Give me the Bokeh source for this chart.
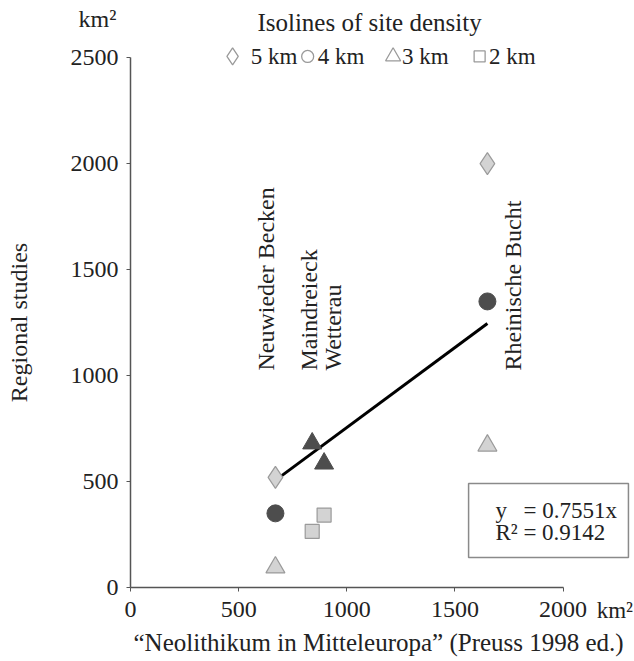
import math
from bokeh.plotting import figure
from bokeh.models import Range1d, FixedTicker
from bokeh.core.properties import value
from bokeh.embed import file_html
from bokeh.resources import INLINE

# ---- data ----
sites = ["Neuwieder Becken", "Maindreieck", "Wetterau", "Rheinische Bucht"]
site_x = [670, 840, 895, 1650]

# isolines of site density (regional studies, km²)
d5_x = [670, 1650]
d5_y = [520, 2000]
d4_x = [670, 1650]
d4_y = [350, 1350]
d3_light_x = [670, 1650]
d3_light_y = [95, 670]
d3_dark_x = [840, 895]
d3_dark_y = [680, 585]
d2_x = [840, 895]
d2_y = [265, 342]

slope = 0.7551
r2 = 0.9142
fit_x = [690, 1650]
fit_y = [slope * v for v in fit_x]

x_ticks = [0, 500, 1000, 1500, 2000]
y_ticks = [0, 500, 1000, 1500, 2000, 2500]

legend_labels = ["5 km", "4 km", "3 km", "2 km"]
x_title = "\u201cNeolithikum in Mitteleuropa\u201d (Preuss 1998 ed.)"
y_title = "Regional studies"

FONT = "Liberation Serif"
FS = "24px"
TXT = "#222222"
LIGHT = "#d3d3d3"
LIGHT_LINE = "#9a9a9a"
DARK = "#4d4d4d"

# frame spans the whole canvas; axes are pinned at x=0 / y=0
p = figure(width=634, height=661, output_backend="svg", toolbar_location=None,
           x_range=Range1d(-601, 2330), y_range=Range1d(-349, 2770),
           min_border_left=0, min_border_right=0, min_border_top=0, min_border_bottom=0)
p.grid.visible = False
p.outline_line_color = None
p.background_fill_color = "white"
p.border_fill_color = "white"

for ax, ticks, bounds in ((p.xaxis[0], x_ticks, (0, 2000)), (p.yaxis[0], y_ticks, (0, 2500))):
    ax.ticker = FixedTicker(ticks=ticks)
    ax.bounds = bounds
    ax.fixed_location = 0
    ax.axis_line_color = "#555555"
    ax.axis_line_width = 1.5
    ax.major_tick_line_color = "#555555"
    ax.major_tick_out = 4
    ax.major_tick_in = 0
    ax.minor_tick_out = 0
    ax.minor_tick_in = 0
    ax.major_label_text_font = FONT
    ax.major_label_text_font_size = FS
    ax.major_label_text_color = TXT
    ax.major_label_standoff = 8
    ax.axis_label_text_font = FONT
    ax.axis_label_text_font_size = FS
    ax.axis_label_text_font_style = "normal"
    ax.axis_label_text_color = TXT

p.xaxis[0].major_label_standoff = 10
p.yaxis[0].axis_label = y_title
p.yaxis[0].axis_label_standoff = 36

# x-axis title (placed as text so it can sit right of the axis centre, as in the original)
p.text(x=[1147], y=[-260], text=[x_title], text_align="center", text_baseline="middle",
       text_font=value(FONT), text_font_size="25px", text_color=TXT)

# regression line
p.line(fit_x, fit_y, line_color="black", line_width=3)

# markers
p.scatter(d5_x, d5_y, marker="diamond", size=22, fill_color=LIGHT, line_color=LIGHT_LINE, line_width=1.2)
p.scatter(d4_x, d4_y, marker="circle", size=17, fill_color=DARK, line_color=DARK)
p.scatter(d3_light_x, d3_light_y, marker="triangle", size=19, fill_color=LIGHT, line_color=LIGHT_LINE, line_width=1.2)
p.scatter(d3_dark_x, d3_dark_y, marker="triangle", size=19, fill_color=DARK, line_color=DARK)
p.scatter(d2_x, d2_y, marker="square", size=14, fill_color=LIGHT, line_color=LIGHT_LINE, line_width=1.2)

# site labels (rotated)
label_x = [625, 824, 937, 1769]
p.text(x=label_x, y=[1024] * 4, text=sites, angle=math.pi / 2,
       text_align="left", text_baseline="middle", text_font=value(FONT),
       text_font_size=FS, text_color=TXT)

# legend
p.text(x=[1105], y=[2666], text=["Isolines of site density"], text_align="center",
       text_baseline="middle", text_font=value(FONT), text_font_size="25px", text_color=TXT)
leg_marker_x = [472, 819, 1214, 1614]
leg_text_x = [556, 866, 1255, 1657]
leg_y = 2506
p.scatter([leg_marker_x[0]], [leg_y], marker="diamond", size=17, fill_color="white", line_color=LIGHT_LINE, line_width=1.3)
p.scatter([leg_marker_x[1]], [leg_y], marker="circle", size=12, fill_color="white", line_color=LIGHT_LINE, line_width=1.3)
p.scatter([leg_marker_x[2]], [leg_y], marker="triangle", size=15, fill_color="white", line_color=LIGHT_LINE, line_width=1.3)
p.scatter([leg_marker_x[3]], [leg_y], marker="square", size=11, fill_color="white", line_color=LIGHT_LINE, line_width=1.3)
p.text(x=leg_text_x, y=[leg_y] * 4, text=legend_labels, text_align="left", text_baseline="middle",
       text_font=value(FONT), text_font_size="23px", text_color=TXT)

# equation box
p.quad(left=[1563], right=[2302], bottom=[142], top=[491], fill_color="white",
       line_color="#8a8a8a", line_width=1.5)
p.text(x=[1687, 1817], y=[363, 363], text=["y", "= %.4fx" % slope], text_align="left",
       text_baseline="middle", text_font=value(FONT), text_font_size="23px", text_color=TXT)
p.text(x=[1687], y=[258], text=["R² = %.4f" % r2], text_align="left",
       text_baseline="middle", text_font=value(FONT), text_font_size="23px", text_color=TXT)

# unit labels
p.text(x=[-153], y=[2685], text=["km²"], text_align="center", text_baseline="middle",
       text_font=value(FONT), text_font_size=FS, text_color=TXT)
p.text(x=[2155], y=[-108], text=["km²"], text_align="left", text_baseline="middle",
       text_font=value(FONT), text_font_size="23px", text_color=TXT)

open("out.html", "w").write(file_html(p, INLINE))
